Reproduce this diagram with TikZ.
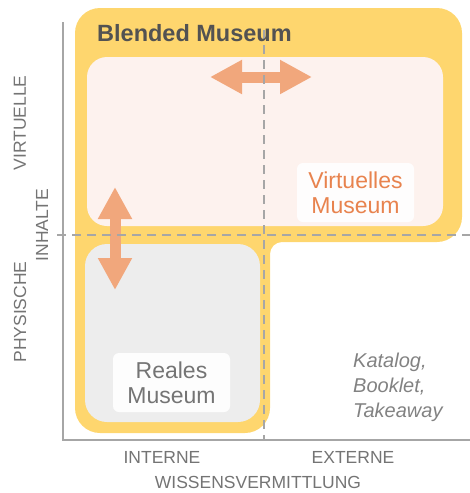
\documentclass[tikz,border=0pt]{standalone}
\usepackage{fontspec}
\setmainfont{Liberation Sans}
\usepackage{tikz}
\usetikzlibrary{arrows.meta}
\definecolor{blendyellow}{HTML}{FED66E}
\definecolor{virtpink}{HTML}{FDF2EE}
\definecolor{realgray}{HTML}{EDEDED}
\definecolor{arroworange}{HTML}{F1A77C}
\definecolor{textorange}{HTML}{E8834E}
\definecolor{axisgray}{HTML}{A6A6A6}
\definecolor{labelgray}{HTML}{747474}
\tikzset{
  axislabel/.style={text=labelgray, font=\fontsize{17.5}{20}\selectfont, inner sep=0pt},
  museumbox/.style={fill=white, fill opacity=.9, text opacity=1, rounded corners=6pt, minimum width=117pt, minimum height=59pt, align=center, font=\fontsize{23}{25}\selectfont, inner sep=0pt},
  gridline/.style={draw=axisgray, line width=2pt, dash pattern=on 9pt off 6pt},
  flowarrow/.style={draw=arroworange, line width=11pt, {Triangle[width=32pt,length=32pt]}-{Triangle[width=32pt,length=32pt]}}
}

\begin{document}
\begin{tikzpicture}[x=1pt, y=-1pt]
	\useasboundingbox (0,0) rectangle (470,493);
	\fill[blendyellow, rounded corners=25pt] (75,8) -- (462,8) -- (462,242) [rounded corners=12pt] -- (270,242) [rounded corners=25pt] -- (270,433) -- (75,433) -- cycle;
	\fill[virtpink, rounded corners=20pt] (87,57) rectangle (443,226);
	\fill[realgray, rounded corners=22pt] (85,244) rectangle (260,422);
	\draw[axisgray, line width=2pt] (63,22) -- (63,440) -- (470,440);

	\coordinate (hl) at (210,77);
	\coordinate (hr) at (312,77);
	\coordinate (vt) at (115,187);
	\coordinate (vb) at (115,290);
	\draw[flowarrow] (hl) -- (hr);
	\draw[flowarrow] (vt) -- (vb);

	\draw[gridline] (264,30) -- (264,440);
	\draw[gridline] (57,235) -- (470,235);

	\node[anchor=west, text=black!68, font=\fontsize{23.5}{25}\selectfont\bfseries, inner sep=0pt] (blended) at (97,33) {Blended Museum};
	\node[museumbox, text=textorange] (virtuell) at (355.5,192.5) {Virtuelles\\Museum};
	\node[museumbox, text=labelgray] (real) at (171.5,382.5) {Reales\\Museum};
	\node[anchor=west, align=left, text=labelgray!90, font=\fontsize{20}{25}\selectfont\itshape, inner sep=0pt] (katalog) at (353,387) {Katalog,\\Booklet,\\Takeaway};

	\node[axislabel, rotate=90] (virtlab) at (20,123) {VIRTUELLE};
	\node[axislabel, rotate=90] (inhalt) at (42,225) {INHALTE};
	\node[axislabel, rotate=90] (physlab) at (20,312) {PHYSISCHE};
	\node[axislabel] (intern) at (162,457) {INTERNE};
	\node[axislabel] (extern) at (353,457) {EXTERNE};
	\node[axislabel] (wissen) at (258,482) {WISSENSVERMITTLUNG};
\end{tikzpicture}
\end{document}
